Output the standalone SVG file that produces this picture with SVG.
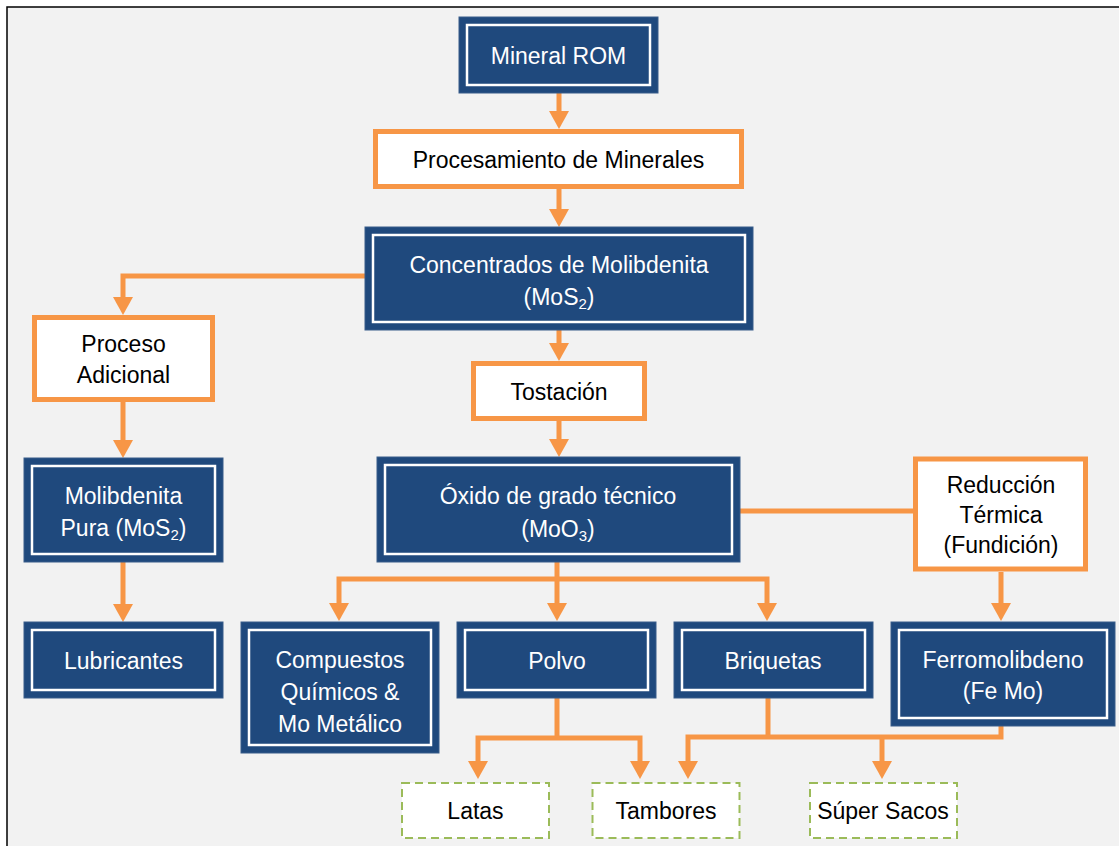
<svg xmlns="http://www.w3.org/2000/svg" width="1119" height="846" viewBox="0 0 1119 846">
<style>
.dark{fill:#1f497d;stroke:#385d8a;stroke-width:1}
.inner{fill:none;stroke:#ffffff;stroke-width:2.5}
.orange{fill:#ffffff;stroke:#f79646;stroke-width:5}
.dash{fill:#ffffff;stroke:#9bbb59;stroke-width:2;stroke-dasharray:8 5}
.tw{font-family:"Liberation Sans",Arial,sans-serif;font-size:23px;fill:#ffffff;text-anchor:middle}
.tb{font-family:"Liberation Sans",Arial,sans-serif;font-size:23px;fill:#000000;text-anchor:middle}
.con path{fill:none;stroke:#f79646;stroke-width:5;stroke-linejoin:miter}
.sub{font-size:15px}
</style>
<defs>
<marker id="ah" markerUnits="userSpaceOnUse" markerWidth="18" markerHeight="20" viewBox="0 0 18 20" refX="0" refY="10" orient="auto" overflow="visible">
<path d="M0,0 L18,10 L0,20 Z" fill="#f79646"/>
</marker>
</defs>
<rect x="0" y="0" width="1119" height="846" fill="#ffffff"/>
<rect x="7" y="7" width="1200" height="900" fill="#f2f2f2" stroke="#000000" stroke-width="1.5"/>

<g class="con" id="connectors">
<path d="M559,93 V111" marker-end="url(#ah)"/>
<path d="M559,189 V209" marker-end="url(#ah)"/>
<path d="M365,276 H123 V297" marker-end="url(#ah)"/>
<path d="M559,330 V343" marker-end="url(#ah)"/>
<path d="M559,421 V439" marker-end="url(#ah)"/>
<path d="M123,402 V440" marker-end="url(#ah)"/>
<path d="M123,562 V604" marker-end="url(#ah)"/>
<path d="M557,562 V603" marker-end="url(#ah)"/>
<path d="M557,579 H339 V603" marker-end="url(#ah)"/>
<path d="M557,579 H767 V603" marker-end="url(#ah)"/>
<path d="M740,511 H914"/>
<path d="M1001,572 V603" marker-end="url(#ah)"/>
<path d="M557,698 V738"/>
<path d="M557,738 H478 V761" marker-end="url(#ah)"/>
<path d="M557,738 H640 V761" marker-end="url(#ah)"/>
<path d="M768,698 V737"/>
<path d="M1001,726 V737 H688 V761" marker-end="url(#ah)"/>
<path d="M882,737 V761" marker-end="url(#ah)"/>
</g>

<g id="mineral-rom">
<rect class="dark" x="459" y="17" width="199" height="76"/>
<rect class="inner" x="467" y="25" width="183" height="60"/>
<text class="tw" x="558.5" y="64">Mineral ROM</text>
</g>

<g id="procesamiento">
<rect class="orange" x="375.5" y="131.5" width="366" height="55"/>
<text class="tb" x="558.5" y="168">Procesamiento de Minerales</text>
</g>

<g id="concentrados">
<rect class="dark" x="365" y="227" width="388" height="103"/>
<rect class="inner" x="373" y="235" width="372" height="87"/>
<text class="tw" x="559" y="273">Concentrados de Molibdenita</text>
<text class="tw" x="559" y="305">(MoS<tspan class="sub" dy="4">2</tspan><tspan dy="-4">)</tspan></text>
</g>

<g id="proceso-adicional">
<rect class="orange" x="34.5" y="317.5" width="178" height="82"/>
<text class="tb" x="123.5" y="352">Proceso</text>
<text class="tb" x="123.5" y="383">Adicional</text>
</g>

<g id="molibdenita-pura">
<rect class="dark" x="24" y="458" width="199" height="104"/>
<rect class="inner" x="32" y="466" width="183" height="88"/>
<text class="tw" x="123.5" y="504">Molibdenita</text>
<text class="tw" x="123.5" y="536">Pura (MoS<tspan class="sub" dy="4">2</tspan><tspan dy="-4">)</tspan></text>
</g>

<g id="lubricantes">
<rect class="dark" x="24" y="622" width="199" height="76"/>
<rect class="inner" x="32" y="630" width="183" height="60"/>
<text class="tw" x="123.5" y="669">Lubricantes</text>
</g>

<g id="tostacion">
<rect class="orange" x="473.5" y="363.5" width="171" height="55"/>
<text class="tb" x="559" y="400">Tostación</text>
</g>

<g id="oxido">
<rect class="dark" x="377" y="457" width="363" height="105"/>
<rect class="inner" x="385" y="465" width="347" height="89"/>
<text class="tw" x="558" y="504">Óxido de grado técnico</text>
<text class="tw" x="558" y="537">(MoO<tspan class="sub" dy="4">3</tspan><tspan dy="-4">)</tspan></text>
</g>

<g id="reduccion">
<rect class="orange" x="915.5" y="459" width="170" height="110"/>
<text class="tb" x="1001" y="493">Reducción</text>
<text class="tb" x="1001" y="523">Térmica</text>
<text class="tb" x="1001" y="553">(Fundición)</text>
</g>

<g id="compuestos">
<rect class="dark" x="241" y="622" width="198" height="131"/>
<rect class="inner" x="249" y="630" width="182" height="115"/>
<text class="tw" x="340" y="668">Compuestos</text>
<text class="tw" x="340" y="700">Químicos &amp;</text>
<text class="tw" x="340" y="732">Mo Metálico</text>
</g>

<g id="polvo">
<rect class="dark" x="457" y="622" width="199" height="76"/>
<rect class="inner" x="465" y="630" width="183" height="60"/>
<text class="tw" x="557" y="669">Polvo</text>
</g>

<g id="briquetas">
<rect class="dark" x="674" y="622" width="199" height="76"/>
<rect class="inner" x="682" y="630" width="183" height="60"/>
<text class="tw" x="773" y="669">Briquetas</text>
</g>

<g id="ferromolibdeno">
<rect class="dark" x="891" y="622" width="224" height="104"/>
<rect class="inner" x="899" y="630" width="208" height="88"/>
<text class="tw" x="1003" y="668">Ferromolibdeno</text>
<text class="tw" x="1003" y="699">(Fe Mo)</text>
</g>

<g id="latas">
<rect class="dash" x="402" y="783" width="147" height="55"/>
<text class="tb" x="475.5" y="819">Latas</text>
</g>

<g id="tambores">
<rect class="dash" x="592.5" y="783" width="147" height="55"/>
<text class="tb" x="666" y="819">Tambores</text>
</g>

<g id="super-sacos">
<rect class="dash" x="810" y="783" width="147" height="55"/>
<text class="tb" x="883" y="819">Súper Sacos</text>
</g>
</svg>
